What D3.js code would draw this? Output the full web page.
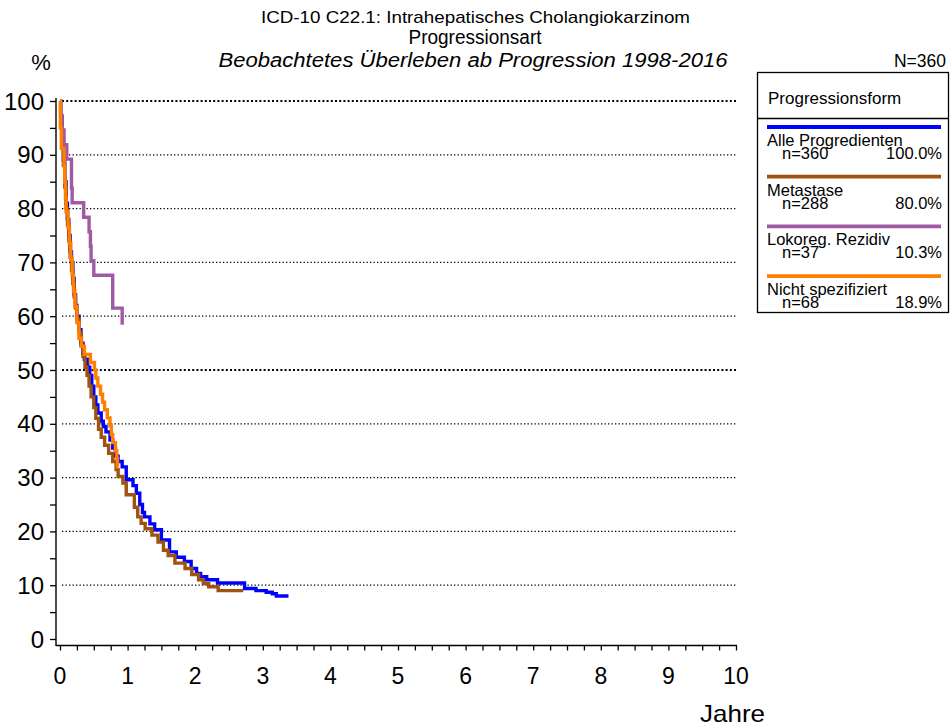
<!DOCTYPE html>
<html><head><meta charset="utf-8">
<script src="https://cdn.jsdelivr.net/npm/d3@7"></script>
<style>
html,body{margin:0;padding:0;background:#fff;}
svg{display:block;font-family:Arial,"Liberation Sans",sans-serif;}
</style></head>
<body>
<svg id="chart" width="952" height="726"></svg>
<script>
// ---- data ----
const titleLines = ["ICD-10 C22.1: Intrahepatisches Cholangiokarzinom", "Progressionsart", "Beobachtetes Überleben ab Progression 1998-2016"];
const totalN = "N=360";
const yTicks = [0,10,20,30,40,50,60,70,80,90,100];
const xTicks = [0,1,2,3,4,5,6,7,8,9,10];
const legendTitle = "Progressionsform";
const seriesNames = ["Alle Progredienten","Metastase","Lokoreg. Rezidiv","Nicht spezifiziert"];
const seriesN = ["n=360","n=288","n=37","n=68"];
const seriesPct = ["100.0%","80.0%","10.3%","18.9%"];
const seriesColors = ["#0000ff","#a0520f","#a05aa5","#ff8000"];

const allTimes = [0,0.01,0.03,0.05,0.07,0.09,0.11,0.13,0.15,0.17,0.19,0.21,0.23,0.25,0.28,0.31,0.34,0.36,0.41,0.44,0.47,0.50,0.53,0.56,0.61,0.64,0.68,0.74,0.78,0.82,0.86,0.92,0.98,1.08,1.13,1.18,1.22,1.25,1.33,1.40,1.50,1.62,1.72,1.84,1.94,2.02,2.08,2.17,2.33,2.73,2.90,3.05,3.14,3.20,3.38];
const allSurv  = [100,97,93,89,85,81,78,75,72,70,67,64,62,60,57.5,55,53,52,50.5,49,47,45,43.5,42,40.5,39.5,38.5,37,35.5,34,33,32,29.6,28.5,27.1,25,23.5,22.7,21.4,20.3,18.4,16.2,15.2,14.4,13.1,12.2,11.6,11.0,10.4,9.4,9.0,8.7,8.4,8.0,8.0];

const metTimes = [0,0.01,0.03,0.05,0.07,0.09,0.11,0.13,0.15,0.17,0.19,0.21,0.23,0.25,0.28,0.31,0.34,0.37,0.40,0.43,0.46,0.50,0.53,0.57,0.61,0.66,0.72,0.78,0.83,0.86,0.93,0.98,1.10,1.15,1.20,1.26,1.36,1.45,1.53,1.60,1.70,1.85,1.95,2.05,2.12,2.20,2.34,2.71];
const metSurv  = [100,97,93,88,84,80,77,74,71,68.5,66,63.5,61.5,59.5,57,54.5,52.5,50.5,49,47,45,43,41,39,37.5,36,34.5,33,31.5,30.2,29,26.8,24.5,22.7,21.5,20.5,19.3,18,16.5,15.5,14.1,13.1,12,11,10.3,9.7,9.0,9.0];

const lokTimes = [0,0.01,0.03,0.06,0.10,0.17,0.18,0.35,0.43,0.45,0.46,0.50,0.78,0.92];
const lokSurv  = [100,97.3,94.6,91.9,89.2,83.8,81.1,78.4,75.7,73.0,70.3,67.6,61.5,58.4];

const nsTimes = [0,0.005,0.02,0.06,0.07,0.08,0.09,0.12,0.14,0.16,0.18,0.20,0.22,0.25,0.28,0.32,0.36,0.45,0.51,0.53,0.56,0.60,0.63,0.66,0.70,0.74,0.76,0.78,0.82,0.84,0.85,0.86];
const nsSurv  = [100,95,91.2,88,85,82,79.4,76.5,73.5,70.6,67.6,64.7,61.8,58.8,55.9,54.4,52.9,51.4,50,48.5,47,45.5,44,42.6,41.1,39.6,38,36.5,35,33.5,32,32];

const seriesData = [
  allTimes.map((t,i)=>({t, s: allSurv[i]})),
  metTimes.map((t,i)=>({t, s: metSurv[i]})),
  lokTimes.map((t,i)=>({t, s: lokSurv[i]})),
  nsTimes.map((t,i)=>({t, s: nsSurv[i]}))
];

// ---- drawing ----
const svg = d3.select("#chart");
const x = d3.scaleLinear().domain([0,10]).range([60,736]);
const y = d3.scaleLinear().domain([0,100]).range([639,101]);

function fitText(sel, len){ sel.attr("textLength",len).attr("lengthAdjust","spacingAndGlyphs"); return sel; }

// titles
fitText(svg.append("text").attr("x",475.5).attr("y",23).attr("text-anchor","middle").attr("font-size",17).text(titleLines[0]),429);
fitText(svg.append("text").attr("x",475).attr("y",44).attr("text-anchor","middle").attr("font-size",19.5).text(titleLines[1]),133);
fitText(svg.append("text").attr("x",473).attr("y",67).attr("text-anchor","middle").attr("font-size",20).attr("font-style","italic").text(titleLines[2]),509);
svg.append("text").attr("x",41).attr("y",70).attr("text-anchor","middle").attr("font-size",22).text("%");
svg.append("text").attr("x",946).attr("y",67).attr("text-anchor","end").attr("font-size",17.5).text(totalN);

// grid
svg.append("g").selectAll("line").data(yTicks.filter(d=>d>0)).join("line")
  .attr("x1",x(0)+2).attr("x2",x(10)).attr("y1",d=>y(d)).attr("y2",d=>y(d))
  .attr("stroke","#000")
  .attr("stroke-width",d=>(d===100||d===50)?2.2:1.3)
  .attr("stroke-dasharray",d=>(d===100||d===50)?"2,2.2":"1.3,2.2");

// y axis
const yAxis = d3.axisLeft(y).tickValues(d3.range(0,101,5)).tickSize(6).tickFormat("");
const gy = svg.append("g").attr("transform","translate(56,0)").call(yAxis);
gy.select(".domain").attr("d","M0,98V646").attr("stroke-width",1.4);
gy.selectAll(".tick line").attr("stroke-width",1.3);
svg.append("g").selectAll("text").data(yTicks).join("text")
  .attr("x",44).attr("y",d=>y(d)+8.5).attr("text-anchor","end").attr("font-size",24).text(d=>d);

// x axis
const xAxis = d3.axisBottom(x).tickValues(d3.range(0,10.001,0.25)).tickSize(5).tickFormat("");
const gx = svg.append("g").attr("transform","translate(0,645.5)").call(xAxis);
gx.select(".domain").attr("d","M56,0H737").attr("stroke-width",1.4);
gx.selectAll(".tick line").attr("stroke-width",1.3);
svg.append("g").selectAll("text").data(xTicks).join("text")
  .attr("x",d=>x(d)).attr("y",684).attr("text-anchor","middle").attr("font-size",23).text(d=>d);
fitText(svg.append("text").attr("x",765).attr("y",722).attr("text-anchor","end").attr("font-size",24).text("Jahre"),65);

// curves
const line = d3.line().x(d=>x(d.t)).y(d=>y(d.s)).curve(d3.curveStepAfter);
const order = [0,1,2,3];
svg.append("g").selectAll("path").data(order).join("path")
  .attr("d",i=>line(seriesData[i]))
  .attr("fill","none").attr("stroke",i=>seriesColors[i]).attr("stroke-width",3.4)
  .attr("stroke-linejoin","miter");

// legend
const lg = svg.append("g");
lg.append("rect").attr("x",757.5).attr("y",72.5).attr("width",191).attr("height",240).attr("fill","#fff").attr("stroke","#000").attr("stroke-width",1.3);
lg.append("line").attr("x1",757.5).attr("x2",948.5).attr("y1",118.5).attr("y2",118.5).attr("stroke","#000").attr("stroke-width",1.3);
lg.append("text").attr("x",768).attr("y",104).attr("font-size",17).text(legendTitle);
seriesNames.forEach((name,i)=>{
  const y0 = 127 + i*49.7;
  lg.append("line").attr("x1",767).attr("x2",941).attr("y1",y0).attr("y2",y0).attr("stroke",seriesColors[i]).attr("stroke-width",3.8);
  lg.append("text").attr("x",767).attr("y",y0+19).attr("font-size",16.5).text(name);
  lg.append("text").attr("x",782).attr("y",y0+32).attr("font-size",16.5).text(seriesN[i]);
  lg.append("text").attr("x",942).attr("y",y0+32).attr("text-anchor","end").attr("font-size",16.5).text(seriesPct[i]);
});
</script>
</body></html>
